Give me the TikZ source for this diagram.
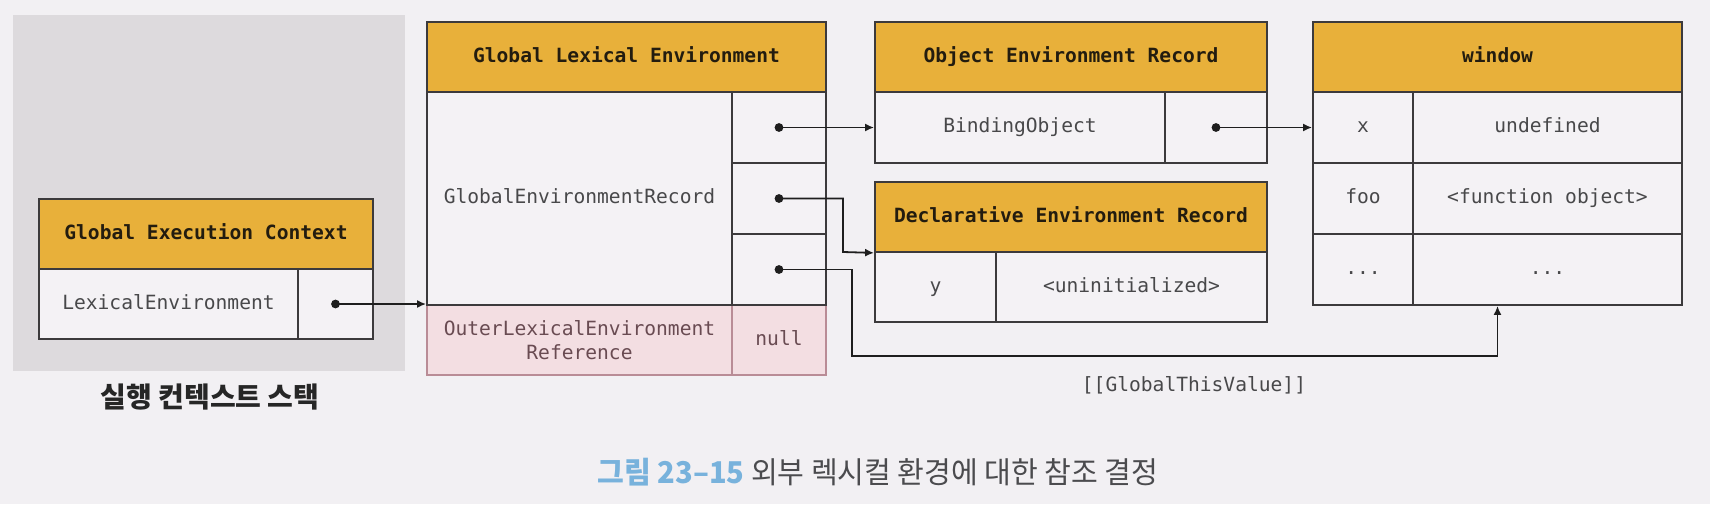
\documentclass[tikz,border=0pt]{standalone}
\usepackage{fontspec}
\setmonofont{DejaVu Sans Mono}
\newfontfamily\kofont{Noto Sans CJK KR}
\usetikzlibrary{arrows.meta,positioning}

\definecolor{pagebg}{RGB}{242,240,243}
\definecolor{stackbg}{RGB}{221,218,221}
\definecolor{hdrfill}{RGB}{232,176,58}
\definecolor{hdrtext}{RGB}{35,28,15}
\definecolor{cellfill}{RGB}{244,242,245}
\definecolor{celltext}{RGB}{72,72,74}
\definecolor{boxline}{RGB}{60,58,60}
\definecolor{pinkfill}{RGB}{243,222,226}
\definecolor{pinkline}{RGB}{185,140,150}
\definecolor{pinktext}{RGB}{105,75,82}
\definecolor{arrowline}{RGB}{30,30,30}
\definecolor{capblue}{RGB}{120,178,220}
\definecolor{captext}{RGB}{75,75,78}

\begin{document}
\begin{tikzpicture}[x=1pt,y=-1pt]
\tikzset{
  hdrbox/.style={rectangle,draw=boxline,line width=0.9pt,fill=hdrfill,inner sep=0pt,minimum height=35pt,text height=7.4pt,text depth=2.2pt,font=\ttfamily\bfseries\fontsize{9.8}{11.7}\selectfont,text=hdrtext},
  cellbox/.style={rectangle,draw=boxline,line width=0.9pt,fill=cellfill,inner sep=0pt,align=center,text height=7.4pt,text depth=2.2pt,font=\ttfamily\fontsize{9.8}{11.7}\selectfont,text=celltext},
  pinkbox/.style={cellbox,fill=pinkfill,draw=pinkline,text=pinktext},
  ptr/.style={-{Latex[length=4.5pt,width=4pt]},line width=0.9pt,draw=arrowline}
}
\fill[pagebg] (0,0) rectangle (855,252);
\useasboundingbox (0,0) rectangle (855,252);

% execution context stack
\fill[stackbg] (6.5,7.5) rectangle (202.5,185.5);
\node[hdrbox,minimum width=167pt] (n_gec_h) at (103,117) {Global Execution Context};
\node[cellbox,minimum width=129.5pt,minimum height=35pt] (n_gec_k) at (84.25,152) {LexicalEnvironment};
\node[cellbox,minimum width=37.5pt,minimum height=35pt] (n_gec_v) at (167.75,152) {};
\node[font=\kofont\bfseries\fontsize{14}{16}\selectfont,text=black!85] (n_stack_lbl) at (105,198.5) {실행 컨텍스트 스택};

% global lexical environment
\node[pinkbox,text height=,text depth=,minimum width=152.5pt,minimum height=35pt] (n_gle_outer) at (289.75,170) {OuterLexicalEnvironment\\Reference};
\node[pinkbox,minimum width=47pt,minimum height=35pt] (n_gle_null) at (389.5,170) {null};
\node[hdrbox,minimum width=199.5pt] (n_gle_h) at (313.25,28.5) {Global Lexical Environment};
\node[cellbox,minimum width=152.5pt,minimum height=106.5pt] (n_gle_rec) at (289.75,99.25) {GlobalEnvironmentRecord};
\node[cellbox,minimum width=47pt,minimum height=35.5pt] (n_gle_s1) at (389.5,63.75) {};
\node[cellbox,minimum width=47pt,minimum height=35.5pt] (n_gle_s2) at (389.5,99.25) {};
\node[cellbox,minimum width=47pt,minimum height=35.5pt] (n_gle_s3) at (389.5,134.75) {};

% object environment record
\node[hdrbox,minimum width=196pt] (n_oer_h) at (535.5,28.5) {Object Environment Record};
\node[cellbox,minimum width=145pt,minimum height=35.5pt] (n_oer_k) at (510,63.75) {BindingObject};
\node[cellbox,minimum width=51pt,minimum height=35.5pt] (n_oer_v) at (608,63.75) {};

% declarative environment record
\node[hdrbox,minimum width=196pt] (n_der_h) at (535.5,108.5) {Declarative Environment Record};
\node[cellbox,minimum width=60.5pt,minimum height=35pt] (n_der_k) at (467.75,143.5) {y};
\node[cellbox,minimum width=135.5pt,minimum height=35pt] (n_der_v) at (565.75,143.5) {<uninitialized>};

% window object
\node[hdrbox,minimum width=184.5pt] (n_win_h) at (748.75,28.5) {window};
\node[cellbox,minimum width=50pt,minimum height=35.5pt] (n_win_k1) at (681.5,63.75) {x};
\node[cellbox,minimum width=134.5pt,minimum height=35.5pt] (n_win_v1) at (773.75,63.75) {undefined};
\node[cellbox,minimum width=50pt,minimum height=35.5pt] (n_win_k2) at (681.5,99.25) {foo};
\node[cellbox,minimum width=134.5pt,minimum height=35.5pt] (n_win_v2) at (773.75,99.25) {<function object>};
\node[cellbox,minimum width=50pt,minimum height=35.5pt] (n_win_k3) at (681.5,134.75) {...};
\node[cellbox,minimum width=134.5pt,minimum height=35.5pt] (n_win_v3) at (773.75,134.75) {...};

% pointers
\coordinate (c_bend2) at (421.5,126);
\coordinate (c_bend3) at (426,178);
\draw[ptr] (n_gec_v.center) -- (n_gec_v.center -| n_gle_rec.west);
\draw[ptr] (n_gle_s1.center) -- (n_oer_k.west);
\draw[ptr] (n_gle_s2.center) -| (c_bend2) -- (n_der_h.south west);
\draw[ptr] (n_gle_s3.center) -| (c_bend3) -| (n_win_v3.south -| n_win_h.south);
\draw[ptr] (n_oer_v.center) -- (n_win_k1.west);
\foreach \n in {n_gec_v,n_gle_s1,n_gle_s2,n_gle_s3,n_oer_v}
  \fill[arrowline] (\n.center) circle (2.2pt);
\node[font=\ttfamily\fontsize{9.8}{11.7}\selectfont,text=celltext] (n_gtv) at (597,192.5) {[[GlobalThisValue]]};

% caption
\node[font=\kofont\fontsize{15}{17}\selectfont] (n_caption) at (439,236) {\scalebox{0.97}[1]{\textcolor{capblue}{\bfseries 그림 23–15} \textcolor{captext}{외부 렉시컬 환경에 대한 참조 결정}}};
\end{tikzpicture}
\end{document}
